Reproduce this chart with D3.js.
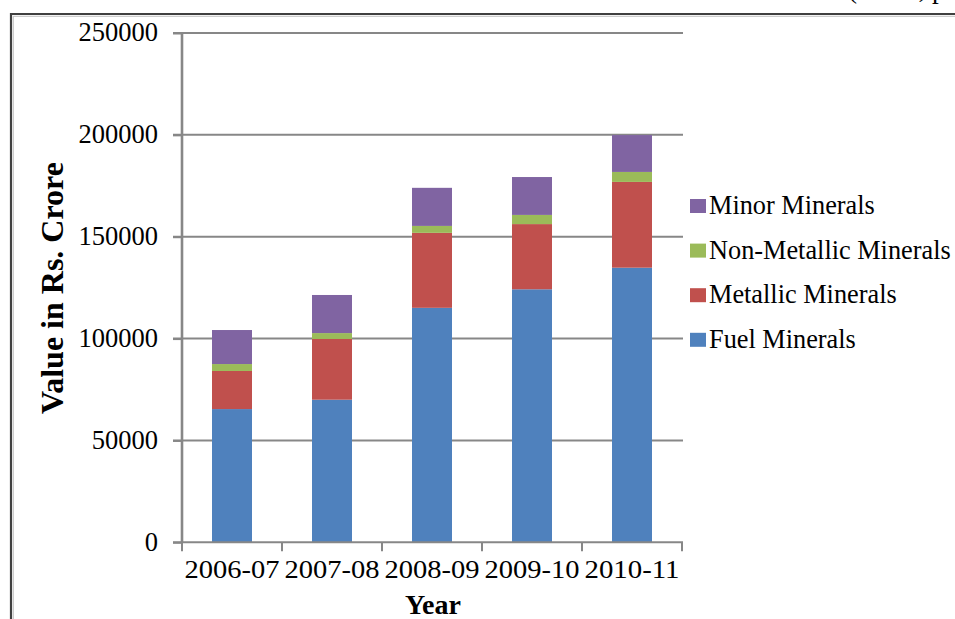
<!DOCTYPE html>
<html>
<head>
<meta charset="utf-8">
<script src="https://cdn.jsdelivr.net/npm/d3@7"></script>
<style>
  html, body { margin: 0; padding: 0; background: #fff; }
  svg { display: block; }
  text { font-family: "Liberation Serif", "Times New Roman", serif; fill: #000; }
</style>
</head>
<body>
<svg id="chart" width="955" height="619"></svg>
<script>
const years = ["2006-07", "2007-08", "2008-09", "2009-10", "2010-11"];
const seriesNames = ["Fuel Minerals", "Metallic Minerals", "Non-Metallic Minerals", "Minor Minerals"];
const fuel = [65400, 70000, 115100, 124200, 134800];
const metallic = [18700, 29800, 36800, 32000, 42100];
const nonMetallic = [3400, 2900, 3400, 4500, 4900];
const minor = [16700, 18700, 18700, 18600, 18100];
const yTicks = [0, 50000, 100000, 150000, 200000, 250000];
const colors = ["#4F81BD", "#C0504D", "#9BBB59", "#8064A2"];

const svg = d3.select("#chart");

// frame
svg.append("path").attr("d", "M11,619 V14 H955").attr("fill", "none")
  .attr("stroke", "#404040").attr("stroke-width", 2.2);
svg.append("path").attr("d", "M13.3,619 V16.3 H955").attr("fill", "none")
  .attr("stroke", "#b0b0b0").attr("stroke-width", 0.8);

// header text, cut off at the top edge as in the reference
svg.append("text").attr("x", 848).attr("y", -2).attr("font-size", 27).text("(Crore, provisional)");

const data = years.map((y, i) => ({
  year: y,
  "Fuel Minerals": fuel[i],
  "Metallic Minerals": metallic[i],
  "Non-Metallic Minerals": nonMetallic[i],
  "Minor Minerals": minor[i]
}));

const x = d3.scaleBand().domain(years).range([182, 682]).paddingInner(0.6).paddingOuter(0.3);
const y = d3.scaleLinear().domain([0, 250000]).range([542.3, 33]);

// gridlines
svg.append("g").selectAll("line").data(yTicks.filter(d => d > 0)).join("line")
  .attr("x1", 173).attr("x2", 683)
  .attr("y1", d => y(d)).attr("y2", d => y(d))
  .attr("stroke", "#878787").attr("stroke-width", 2);

// bars
const stack = d3.stack().keys(seriesNames)(data);
svg.append("g").selectAll("g").data(stack).join("g")
  .attr("fill", (d, i) => colors[i])
  .selectAll("rect").data(d => d).join("rect")
  .attr("x", d => x(d.data.year))
  .attr("width", x.bandwidth())
  .attr("y", d => y(d[1]))
  .attr("height", d => y(d[0]) - y(d[1]));

// y axis
const yAxis = svg.append("g").attr("transform", "translate(182,0)")
  .call(d3.axisLeft(y).tickValues(yTicks).tickSize(9).tickPadding(15).tickFormat(d3.format("d")));
yAxis.select(".domain").attr("stroke", "#878787").attr("stroke-width", 2.6).attr("d", "M0,33V542.3");
yAxis.selectAll(".tick line").attr("stroke", "#878787").attr("stroke-width", 2);
yAxis.selectAll(".tick text").attr("font-size", 26.5).attr("font-family", "Liberation Serif, serif")
  .attr("dy", "0.3em").attr("fill", "#000");

// x axis
const xAxis = svg.append("g").attr("transform", "translate(0,542.3)")
  .call(d3.axisBottom(x).tickSize(0).tickPadding(0));
xAxis.select(".domain").attr("stroke", "#878787").attr("stroke-width", 2).attr("d", "M173,0H683");
xAxis.selectAll(".tick text").remove();
xAxis.selectAll(".tick line").remove();
const boundaries = d3.range(years.length + 1).map(i => i === years.length ? x(years[i - 1]) + x.step() * 0.7 : x(years[i]) - x.step() * 0.3);
xAxis.append("g").selectAll("line").data(boundaries).join("line")
  .attr("x1", d => d).attr("x2", d => d).attr("y1", 0).attr("y2", 9)
  .attr("stroke", "#878787").attr("stroke-width", 2);
xAxis.append("g").selectAll("text").data(years).join("text")
  .attr("x", d => x(d) + x.bandwidth() / 2)
  .attr("y", 36)
  .attr("text-anchor", "middle")
  .attr("font-size", 26)
  .attr("textLength", 95)
  .attr("lengthAdjust", "spacingAndGlyphs")
  .text(d => d);

// axis titles
svg.append("text").attr("x", 433).attr("y", 614).attr("text-anchor", "middle")
  .attr("font-size", 28).attr("font-weight", "bold").text("Year");
svg.append("text").attr("transform", "translate(63,288) rotate(-90)").attr("text-anchor", "middle")
  .attr("font-size", 32).attr("font-weight", "bold").text("Value in Rs. Crore");

// legend (reverse order)
const legendItems = seriesNames.map((n, i) => ({ name: n, color: colors[i] })).reverse();
const lg = svg.append("g").selectAll("g").data(legendItems).join("g")
  .attr("transform", (d, i) => `translate(690,${206 + i * 44.6})`);
lg.append("rect").attr("x", 0).attr("y", -7).attr("width", 16).attr("height", 14).attr("fill", d => d.color);
lg.append("text").attr("x", 19).attr("y", 8).attr("font-size", 26.3).text(d => d.name);
</script>
</body>
</html>
